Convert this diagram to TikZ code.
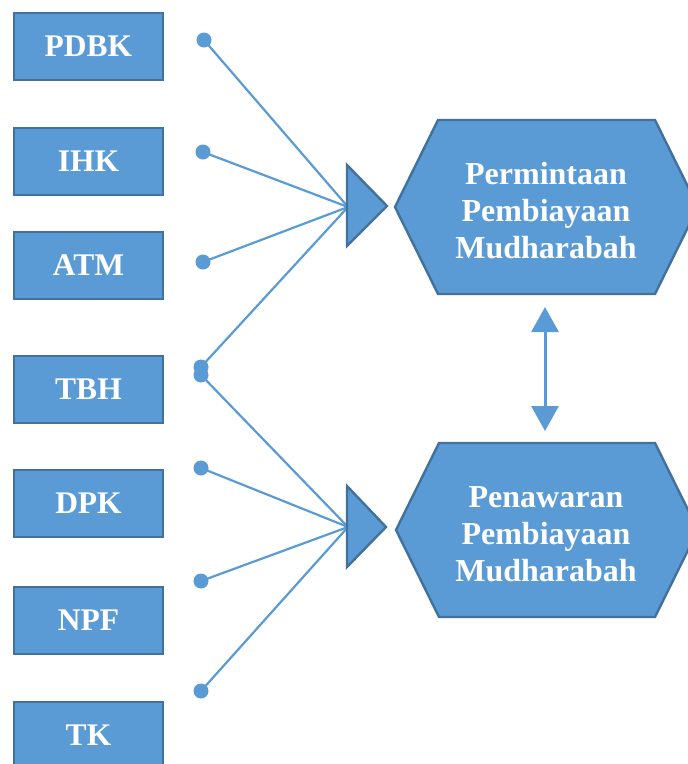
\documentclass[tikz,border=0pt]{standalone}
\usepackage{fontspec}
\setmainfont{Liberation Serif}
\usetikzlibrary{arrows.meta}
\definecolor{fillblue}{HTML}{5B9BD5}
\definecolor{edgeblue}{HTML}{41719C}
\tikzset{
  box/.style={draw=edgeblue, line width=2pt, fill=fillblue, minimum width=149pt, minimum height=67pt, inner sep=0pt,
    text=white, font=\fontsize{31.5}{36}\selectfont\bfseries},
  dot/.style={circle, fill=fillblue, minimum size=15pt, inner sep=0pt},
  link/.style={draw=fillblue, line width=2.2pt},
  shape2d/.style={draw=edgeblue, line width=2.4pt, fill=fillblue, line join=miter},
  hextext/.style={text=white, align=center, font=\fontsize{32}{37}\selectfont\bfseries},
}
\begin{document}
\begin{tikzpicture}[x=1pt,y=-1pt]
\useasboundingbox (0,0) rectangle (688,764);
\clip (0,0) rectangle (688,764);
% boxes
\node[box] (pdbk) at (88.5,46.5) {PDBK};
\node[box] (ihk) at (88.5,161) {IHK};
\node[box] (atm) at (88.5,265.5) {ATM};
\node[box] (tbh) at (88.5,389.5) {TBH};
\node[box] (dpk) at (88.5,503.5) {DPK};
\node[box] (npf) at (88.5,620) {NPF};
\node[box] (tk) at (88.5,735.5) {TK};
% dots
\node[dot] (d1) at (204,40) {};
\node[dot] (d2) at (203,152) {};
\node[dot] (d3) at (203,262) {};
\node[dot] (d4a) at (201,367) {};
\node[dot] (d4b) at (201,375) {};
\node[dot] (d5) at (201,468) {};
\node[dot] (d6) at (201,581) {};
\node[dot] (d7) at (201,691) {};
% convergence points
\coordinate (c1) at (348,207);
\coordinate (c2) at (348,527);
% links
\foreach \d in {d1,d2,d3,d4a} \draw[link] (\d.center) -- (c1);
\foreach \d in {d4b,d5,d6,d7} \draw[link] (\d.center) -- (c2);
% triangles
\coordinate (t1a) at (347,165);
\coordinate (t1b) at (347,246);
\coordinate (t1c) at (387,206);
\draw[shape2d] (t1a) -- (t1c) -- (t1b) -- cycle;
\coordinate (t2a) at (347,486);
\coordinate (t2b) at (347,567);
\coordinate (t2c) at (386,527);
\draw[shape2d] (t2a) -- (t2c) -- (t2b) -- cycle;
% hexagons
\draw[shape2d] (395,207) -- (438,120) -- (655,120) -- (698,207) -- (655,294) -- (438,294) -- cycle;
\node[hextext] (dem) at (546,211) {Permintaan\\Pembiayaan\\Mudharabah};
\draw[shape2d] (396,530) -- (439,443) -- (655,443) -- (698,530) -- (655,617) -- (439,617) -- cycle;
\node[hextext] (sup) at (546,534) {Penawaran\\Pembiayaan\\Mudharabah};
% double arrow
\coordinate (a1) at (545,307);
\coordinate (a2) at (545,431);
\draw[draw=fillblue, line width=3pt, {Triangle[width=27pt,length=25pt]}-{Triangle[width=27pt,length=25pt]}] (a1) -- (a2);
\end{tikzpicture}
\end{document}
